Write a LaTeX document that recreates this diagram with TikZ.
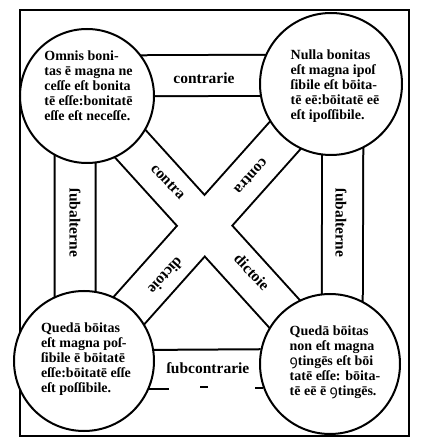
\documentclass[tikz,border=0pt]{standalone}
\usepackage{fontspec}
\setmainfont{Liberation Serif}
\newfontfamily\confont{Noto Sans}
\newcommand{\con}{{\confont ꝯ}}
\usetikzlibrary{calc,backgrounds}

\begin{document}
\begin{tikzpicture}[x=1pt, y=1pt,
    disc/.style={draw, circle, fill=white, line width=2pt, minimum size=#1, inner sep=0pt},
    bandout/.style={line width=43pt, line cap=butt},
    bandin/.style={line width=39pt, line cap=butt, white},
    edge/.style={line width=2pt},
    txt/.style={font=\fontsize{14}{15}\selectfont\bfseries, align=left, inner sep=0pt},
    lbl/.style={font=\fontsize{15.5}{17}\selectfont\bfseries, inner sep=1pt}
]
\useasboundingbox (0,0) rectangle (423,445);
\draw[line width=2.2pt] (20,9) rectangle (409,435);

\node[disc=134pt] (tl) at (87,349) {};
\node[disc=142pt] (tr) at (331,361) {};
\node[disc=140pt] (bl) at (84,84) {};
\node[disc=140pt] (br) at (330,81) {};

\begin{scope}[on background layer]
\draw[bandout] (tl.center) -- (br.center) (tr.center) -- (bl.center)
    ([yshift=20pt]tl.center) -- ([yshift=9pt]tr.center)
    ([xshift=-12pt]tl.center) -- ([xshift=-9pt]bl.center)
    ([xshift=12pt]tr.center) -- ([xshift=12pt]br.center);
\draw[bandin] (tl.center) -- (br.center) (tr.center) -- (bl.center)
    ([yshift=20pt]tl.center) -- ([yshift=9pt]tr.center)
    ([xshift=-12pt]tl.center) -- ([xshift=-9pt]bl.center)
    ([xshift=12pt]tr.center) -- ([xshift=12pt]br.center);
\draw[edge] (bl.9) -- (br.168);
\draw[edge] (bl.337) -- ++(20,0);
\draw[edge] (br.200) -- ++(-8,0);
\end{scope}
\coordinate (dash) at (204,58);
\draw[edge] ([xshift=-4pt]dash) -- ([xshift=4pt]dash);

\node[txt] (tltxt) at (88.5,359) {Omnis boni-\\tas ē magna ne\\ceſſe eſt bonita\\tē eſſe:bonitatē\\eſſe eſt neceſſe.};
\node[txt] (trtxt) at (335,358.5) {Nulla bonitas\\eſt magna ipoſ\\ſibile eſt bōita-\\tē eē:bōitatē eē\\eſt ipoſſibile.};
\node[txt] (bltxt) at (86,86) {Quedā bōitas\\eſt magna poſ-\\ſibile ē bōitatē\\eſſe:bōitatē eſſe\\eſt poſſibile.};
\node[txt] (brtxt) at (335,82.5) {Quedā bōitas\\non eſt magna\\\con tingēs eſt bōi\\tatē eſſe: bōita-\\tē eē ē \con tingēs.};

\node[lbl] (contrarie) at (204,367) {contrarie};
\node[lbl] (subcontrarie) at (208,77) {ſubcontrarie};
\node[lbl, rotate=-90] (subaltl) at (75,222) {ſubalterne};
\node[lbl, rotate=-90] (subaltr) at (341,222) {ſubalterne};
\node[lbl, rotate=-47] (contral) at (168,263) {contra};
\node[lbl, rotate=228] (contrar) at (251,269) {contra};
\node[lbl, rotate=228] (dictl) at (166,169) {dictoie};
\node[lbl, rotate=-47] (dictr) at (252,173) {dictoie};
\end{tikzpicture}
\end{document}
